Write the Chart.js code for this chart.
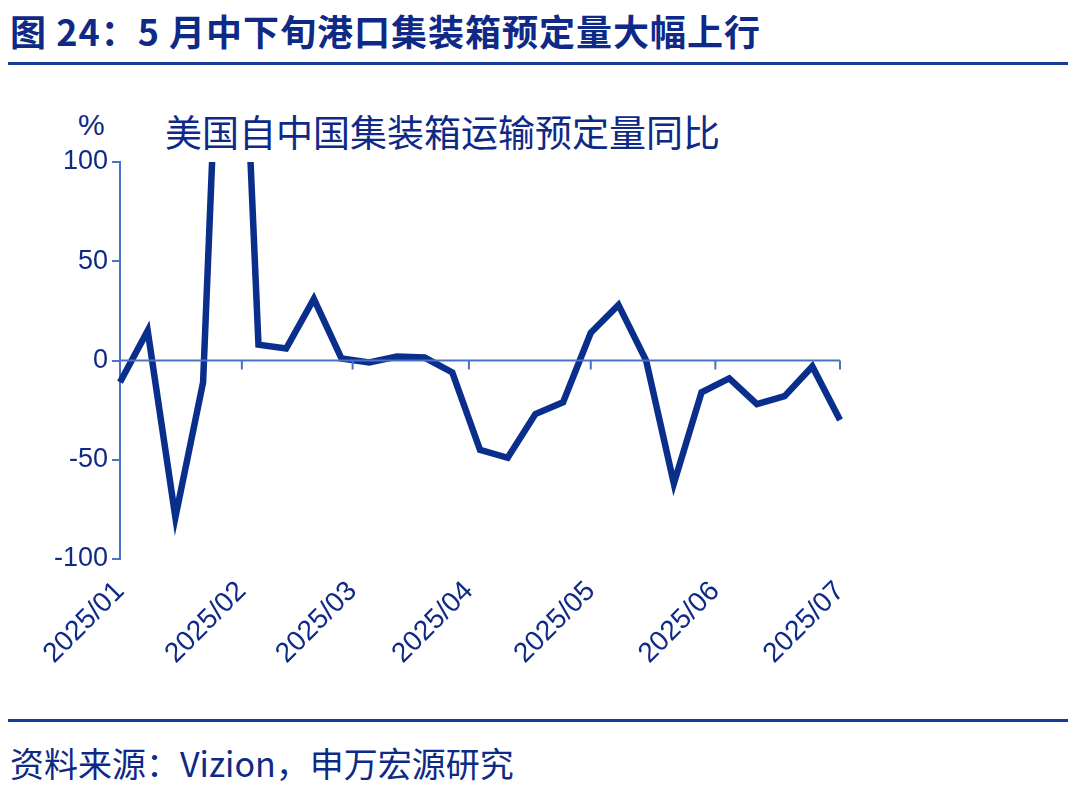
<!DOCTYPE html>
<html><head><meta charset="utf-8">
<script src="https://cdn.jsdelivr.net/npm/chart.js@4"></script>
<style>
body{margin:0;width:1080px;height:802px;background:#fff;font-family:"Noto Sans CJK SC",sans-serif;position:relative;overflow:hidden}
#t{position:absolute;left:10px;top:4px;font-size:36px;font-weight:bold;color:#0e2a86;letter-spacing:1px}
#l1{position:absolute;left:8px;top:62px;width:1060px;height:3px;background:#1b3a96}
#l2{position:absolute;left:8px;top:719px;width:1060px;height:3px;background:#1b3a96}
#s{position:absolute;left:10px;top:738px;font-size:34px;color:#0e2a86}
#st{position:absolute;left:165px;top:104px;font-size:37px;color:#0e2a86}
#pc{position:absolute;left:78px;top:108px;font-size:30px;color:#0e2a86;font-family:"Liberation Sans"}
#w{position:absolute;left:0;top:70px;width:1080px;height:640px}
</style></head><body>
<div id="t">图 24：5 月中下旬港口集装箱预定量大幅上行</div>
<div id="l1"></div>
<div id="pc">%</div><div id="st">美国自中国集装箱运输预定量同比</div>
<div id="w"><canvas id="c"></canvas></div>
<div id="l2"></div>
<div id="s">资料来源：Vizion，申万宏源研究</div>
<script>
const weekIndex=[0,1,2,3,4,5,6,7,8,9,10,11,12,13,14,15,16,17,18,19,20,21,22,23,24,25,26];
const yoyValues=[-11,15,-79,-11,330,8,6,31,1,-1,2,1.5,-6,-45,-49,-27,-21,14,28,0,-62,-16,-9,-22,-18,-3,-30];
const monthLabels=["2025/01","2025/02","2025/03","2025/04","2025/05","2025/06","2025/07"];
const monthPos=[0,4.4,8.4,12.6,17,21.5,26];
const zeroPlugin={id:'z',afterDatasetsDraw(ch){
 const x=ch.scales.x,y=ch.scales.y,c=ch.ctx,y0=y.getPixelForValue(0);
 c.save();c.strokeStyle='#4a72c4';c.lineWidth=2;c.beginPath();
 c.moveTo(ch.chartArea.left,y0);c.lineTo(ch.chartArea.right,y0);
 monthPos.forEach(p=>{const px=x.getPixelForValue(p);c.moveTo(px,y0);c.lineTo(px,y0+9);});
 c.stroke();c.restore();}};
new Chart(document.getElementById('c'),{type:'line',
data:{datasets:[{data:weekIndex.map((w,i)=>({x:w,y:yoyValues[i]})),borderColor:'#0a2e8c',borderWidth:6.5,pointRadius:0,tension:0,clip:{left:5,right:5,top:0,bottom:5}}]},
options:{responsive:true,maintainAspectRatio:false,animation:false,
layout:{padding:{left:0,right:240,top:92,bottom:0}},
plugins:{legend:{display:false},tooltip:{enabled:false}},
scales:{
 x:{type:'linear',min:0,max:26,border:{display:false},grid:{display:false},
  afterBuildTicks(s){s.ticks=monthPos.map(v=>({value:v}));},
  afterFit(s){s.height=151;},
  ticks:{autoSkip:false,maxRotation:45,minRotation:45,padding:8,color:'#0e2a86',font:{size:28,family:'Liberation Sans'},callback:(v,i)=>monthLabels[i]}},
 y:{min:-100,max:100,afterFit(s){s.width=120;},
  border:{display:true,color:'#4a72c4',width:2},
  grid:{display:true,drawOnChartArea:false,drawTicks:true,tickLength:8,color:'#4a72c4',lineWidth:2},
  ticks:{stepSize:50,color:'#0e2a86',font:{size:27,family:'Liberation Sans'},padding:4}}}},
plugins:[zeroPlugin]});
</script></body></html>
